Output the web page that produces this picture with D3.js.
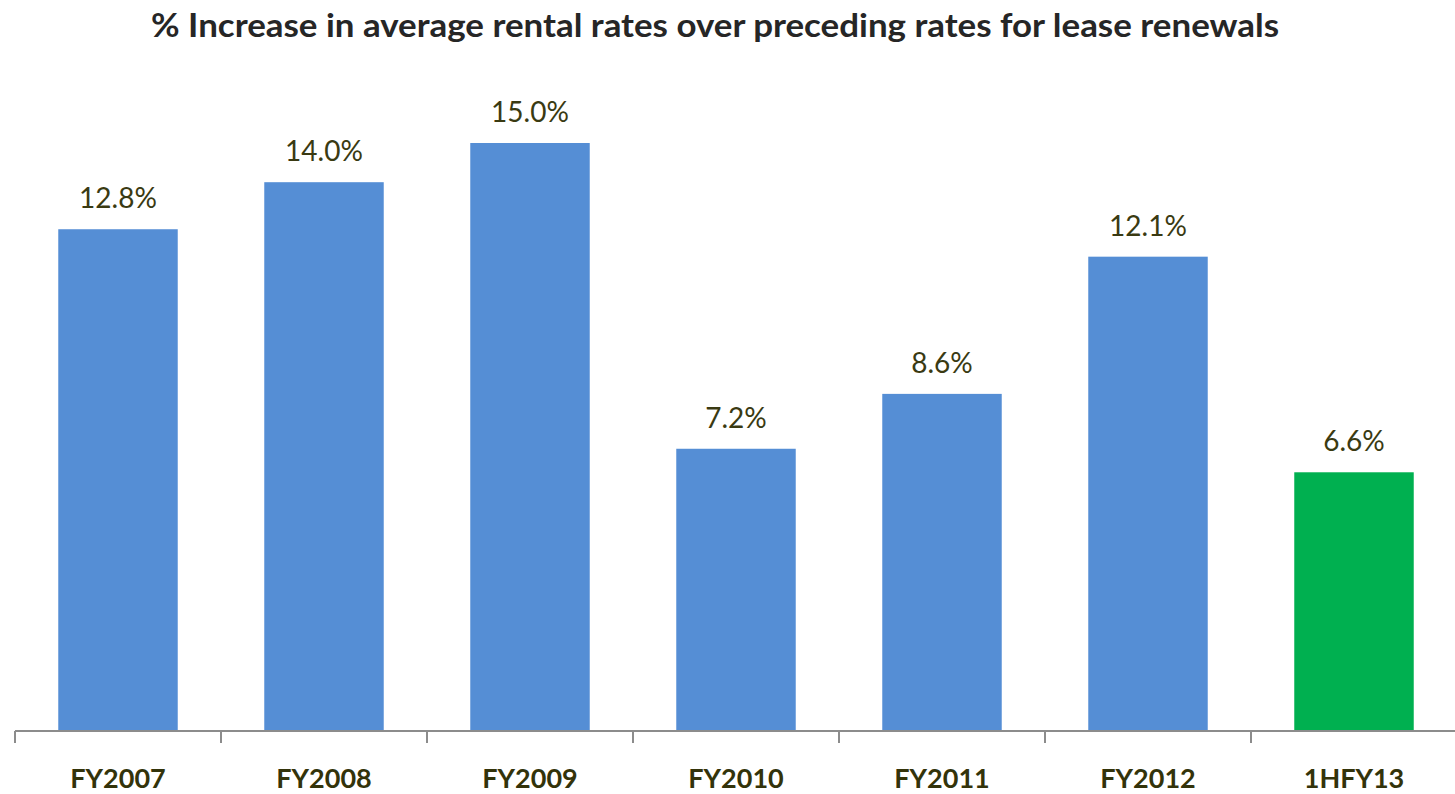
<!DOCTYPE html>
<html>
<head>
<meta charset="utf-8">
<script src="https://cdn.jsdelivr.net/npm/d3@7"></script>
<style>
  body { margin: 0; background: #fff; }
  svg { display: block; font-family: Lato, "Open Sans", sans-serif; }
</style>
</head>
<body>
<svg id="chart"></svg>
<script>
const width = 1455;
const height = 794;

const categories = ["FY2007", "FY2008", "FY2009", "FY2010", "FY2011", "FY2012", "1HFY13"];
const values = [12.8, 14.0, 15.0, 7.2, 8.6, 12.1, 6.6];
const barColors = ["#558ed5", "#558ed5", "#558ed5", "#558ed5", "#558ed5", "#558ed5", "#00b050"];

const baseY = 731;

const svg = d3.select("#chart")
  .attr("width", width)
  .attr("height", height);

const x = d3.scaleBand()
  .domain(categories)
  .range([15, 1457])
  .paddingInner(0.42)
  .paddingOuter(0.21);

const y = d3.scaleLinear()
  .domain([0, 15])
  .range([baseY, 143]);

svg.append("text")
  .attr("x", 715)
  .attr("y", 37)
  .attr("text-anchor", "middle")
  .attr("font-size", 32)
  .attr("font-weight", "bold")
  .attr("fill", "#262626")
  .attr("textLength", 1128)
  .attr("lengthAdjust", "spacingAndGlyphs")
  .text("% Increase in average rental rates over preceding rates for lease renewals");

svg.selectAll(".bar")
  .data(values)
  .enter()
  .append("rect")
  .attr("class", "bar")
  .attr("x", (d, i) => x(categories[i]))
  .attr("y", d => y(d))
  .attr("width", x.bandwidth())
  .attr("height", d => baseY - y(d))
  .attr("fill", (d, i) => barColors[i]);

svg.selectAll(".val")
  .data(values)
  .enter()
  .append("text")
  .attr("class", "val")
  .attr("x", (d, i) => x(categories[i]) + x.bandwidth() / 2)
  .attr("y", d => y(d) - 21)
  .attr("text-anchor", "middle")
  .attr("font-size", 28)
  .attr("fill", "#3a3a12")
  .text(d => d.toFixed(1) + "%");

// axis with ticks between bands
const step = x.step();
const tickPos = d3.range(categories.length + 1).map(i => 15 + i * step);

const axis = svg.append("g").attr("stroke", "#8c8c8c").attr("stroke-width", 2);
axis.append("line")
  .attr("x1", 15).attr("x2", width)
  .attr("y1", baseY).attr("y2", baseY);
axis.selectAll(".tick")
  .data(tickPos)
  .enter()
  .append("line")
  .attr("x1", d => d).attr("x2", d => d)
  .attr("y1", baseY).attr("y2", baseY + 12);

svg.selectAll(".cat")
  .data(categories)
  .enter()
  .append("text")
  .attr("class", "cat")
  .attr("x", d => x(d) + x.bandwidth() / 2)
  .attr("y", 788)
  .attr("text-anchor", "middle")
  .attr("font-size", 27)
  .attr("font-weight", "bold")
  .attr("fill", "#33330a")
  .text(d => d);
</script>
</body>
</html>
